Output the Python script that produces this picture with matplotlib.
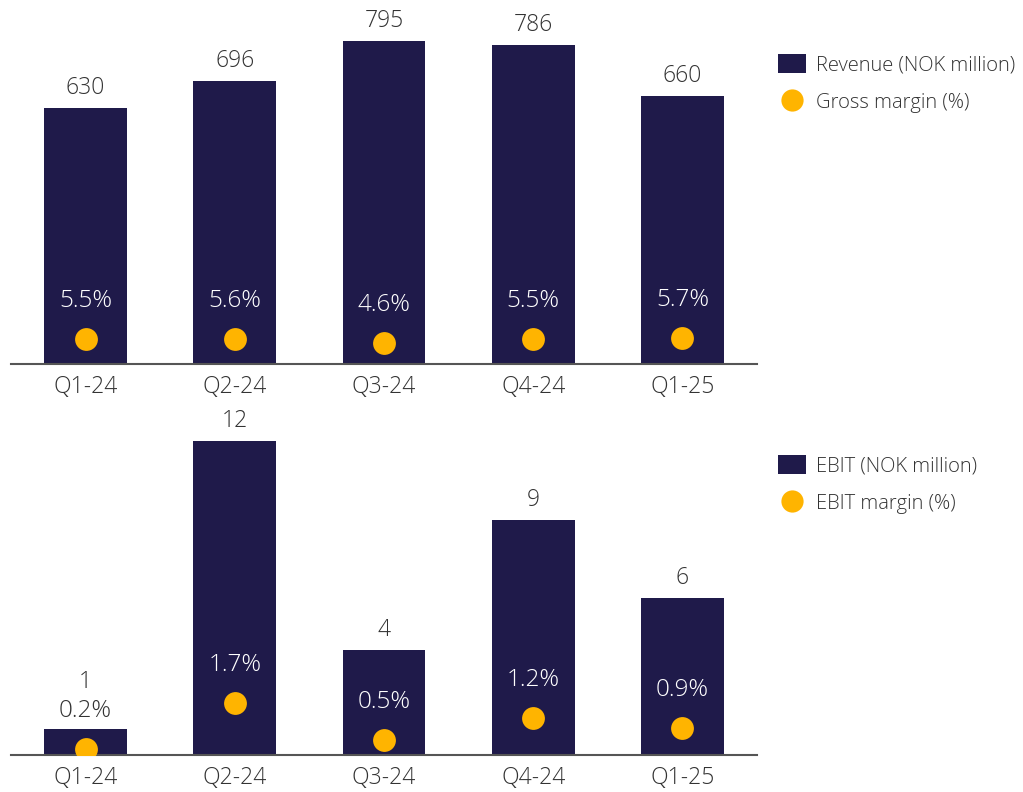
import matplotlib
matplotlib.use("Agg")
import matplotlib.pyplot as plt
from matplotlib.patches import Patch
from matplotlib.lines import Line2D

quarters = ["Q1-24", "Q2-24", "Q3-24", "Q4-24", "Q1-25"]
revenue = [630, 696, 795, 786, 660]
gross_margin = [5.5, 5.6, 4.6, 5.5, 5.7]
ebit = [1, 12, 4, 9, 6]
ebit_margin = [0.2, 1.7, 0.5, 1.2, 0.9]

NAVY = "#1F1A4A"
GOLD = "#FFB400"
GREY = "#333333"
AXIS = "#555555"

plt.rcParams["font.family"] = ["Open Sans", "DejaVu Sans"]
plt.rcParams["font.weight"] = "light"

W, H = 1023, 792
fig = plt.figure(figsize=(W / 100, H / 100), dpi=100)
LABEL_SIZE = 16.5
PCT_SIZE = 17.5


def px_axes(left, top, right, bottom):
    return fig.add_axes([left / W, 1 - bottom / H, (right - left) / W, (bottom - top) / H])


def panel(ax, values, margins, ymax, mmax, legend_labels, legend_top):
    x = list(range(len(values)))
    ax.bar(x, values, width=0.556, color=NAVY, zorder=2)
    ax.set_xlim(-0.5, len(values) - 0.5)
    ax.set_ylim(0, ymax)
    ax.set_xticks(x)
    ax.set_xticklabels(quarters, fontsize=LABEL_SIZE, color=GREY)
    ax.tick_params(axis="x", length=0, pad=8)
    ax.set_yticks([])
    for s in ("top", "left", "right"):
        ax.spines[s].set_visible(False)
    ax.spines["bottom"].set_color(AXIS)
    ax.spines["bottom"].set_linewidth(1.5)
    ax.patch.set_alpha(0)

    ax2 = ax.twinx()
    ax2.set_ylim(0, mmax)
    ax2.set_yticks([])
    for s in ax2.spines.values():
        s.set_visible(False)
    ax2.scatter(x, margins, s=270, color=GOLD, zorder=5, linewidths=0)

    def y_px_bar(v):
        return ax.transData.transform((0, v))[1]

    def y_px_margin(v):
        return ax2.transData.transform((0, v))[1]

    pt = 72 / 100  # points per pixel
    for i, (v, m) in enumerate(zip(values, margins)):
        bar_top = y_px_bar(v)
        m_label = y_px_margin(m) + 38
        inside = m_label + 10 < bar_top
        ax2.annotate(f"{m:.1f}%", (i, m), xytext=(0, 38 * pt), textcoords="offset points",
                     ha="center", va="center", fontsize=PCT_SIZE,
                     color="white" if inside else GREY)
        v_label = max(bar_top + 20, m_label + 29)
        ax.annotate(f"{v}", (i, v), xytext=(0, (v_label - bar_top) * pt),
                    textcoords="offset points", ha="center", va="center",
                    fontsize=LABEL_SIZE, color=GREY)

    handles = [Patch(facecolor=NAVY, edgecolor="none"),
               Line2D([], [], marker="o", linestyle="none", markersize=16,
                      markerfacecolor=GOLD, markeredgewidth=0)]
    fig.legend(handles, legend_labels, loc="upper left",
               bbox_to_anchor=(770 / W, 1 - legend_top / H), frameon=False,
               fontsize=14.5, labelcolor=GREY, handlelength=1.4, handleheight=1.1,
               handletextpad=0.5, labelspacing=0.8, borderaxespad=0)
    return ax, ax2


ax_top = px_axes(11, 0, 757, 364)
panel(ax_top, revenue, gross_margin, 364 / 0.4063, 364 / 4.5,
      ["Revenue (NOK million)", "Gross margin (%)"], 46)

ax_bot = px_axes(11, 400, 757, 755)
panel(ax_bot, ebit, ebit_margin, 355 / 26.15, 355 / 30.5,
      ["EBIT (NOK million)", "EBIT margin (%)"], 447)

fig.savefig("out.png", dpi=100)
